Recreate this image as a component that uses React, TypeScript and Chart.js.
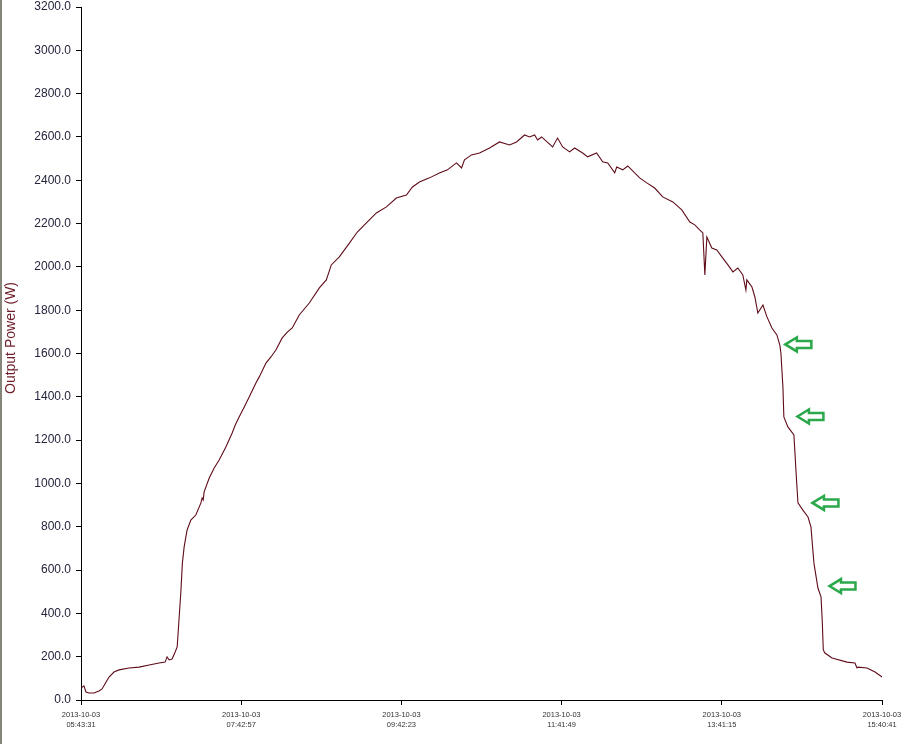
import React, { useEffect, useRef } from "react";
import { Chart, registerables } from "chart.js";

Chart.register(...registerables);

// minutes elapsed since 2013-10-03 05:43:31
const timeMinutes = [
  0, 2.2, 3.7, 6.0, 9.7, 13.4, 15.7, 18.7, 20.9, 24.6, 28.4, 35.8, 43.3, 50.8, 58.2, 62.7, 64.2, 65.7, 67.9,
  70.2, 71.7, 73.2, 74.4, 75.6, 76.9, 79.1, 81.9, 85.6, 89.4, 90.3, 91.1, 91.8, 95.6, 99.3, 103.0, 108.0,
  112.7, 115.0, 117.9, 121.7, 125.4, 130.4, 132.9, 137.9, 141.6, 145.3, 150.0, 153.8, 157.5, 162.7, 170.2,
  177.7, 182.9, 186.6, 192.6, 200.1, 206.0, 211.3, 220.2, 227.7, 235.1, 242.6, 247.1, 252.3, 259.8, 267.2,
  273.2, 279.9, 283.7, 285.9, 291.1, 297.1, 304.6, 312.0, 319.5, 324.7, 330.7, 334.4, 338.2, 340.4, 343.4,
  351.6, 355.3, 359.1, 364.3, 368.0, 374.0, 377.7, 384.4, 388.9, 392.7, 397.9, 399.4, 403.9, 407.6, 416.5,
  421.8, 427.7, 433.7, 441.2, 447.9, 453.9, 457.6, 461.4, 463.6, 465.1, 466.6, 470.3, 474.0, 477.8, 482.3,
  486.0, 489.7, 493.4, 495.7, 496.4, 500.2, 502.4, 504.6, 508.4, 511.4, 515.1, 518.8, 521.0, 521.8, 523.3,
  524.0, 527.0, 531.5, 533.0, 534.5, 538.2, 542.0, 544.2, 546.4, 549.4, 551.7, 552.6, 553.4, 554.6, 559.9,
  571.1, 577.0, 578.5, 579.3, 586.0, 592.0, 597.2,
];

// output power in W
const powerWatts = [
  55, 65, 37, 32, 32, 42, 51, 83, 106, 129, 139, 148, 152, 162, 171, 175, 199, 185, 189,
  222, 245, 383, 494, 633, 707, 785, 831, 854, 910, 933, 924, 961, 1025, 1071, 1108, 1168,
  1233, 1270, 1307, 1353, 1399, 1464, 1492, 1556, 1584, 1616, 1672, 1699, 1718, 1778, 1833,
  1903, 1940, 2009, 2046, 2110, 2161, 2194, 2249, 2277, 2318, 2332, 2369, 2392, 2411, 2434,
  2448, 2480, 2457, 2494, 2517, 2526, 2549, 2577, 2563, 2577, 2609, 2600, 2609, 2586, 2600,
  2554, 2595, 2554, 2531, 2549, 2526, 2508, 2526, 2485, 2480, 2434, 2461, 2448, 2466, 2411,
  2388, 2364, 2323, 2300, 2263, 2207, 2194, 2170, 2157, 1963, 2138, 2087, 2078, 2046, 2009,
  1977, 1995, 1963, 1893, 1940, 1907, 1861, 1787, 1824, 1769, 1718, 1686, 1639, 1602, 1445,
  1307, 1261, 1224, 1062, 910, 877, 845, 799, 633, 517, 476, 369, 231, 217, 194,
  175, 171, 148, 152, 148, 129, 106,
];

const xTickMinutes = [0, 119.433, 238.867, 358.3, 477.733, 597.167];
const xTickDates = ["2013-10-03", "2013-10-03", "2013-10-03", "2013-10-03", "2013-10-03", "2013-10-03"];
const xTickTimes = ["05:43:31", "07:42:57", "09:42:23", "11:41:49", "13:41:15", "15:40:41"];

const yTitle = "Output Power (W)";

// green arrow markers (centre, data coordinates)
const arrowMinutes = [534.8, 543.8, 555.0, 567.7];
const arrowWatts = [1642, 1309, 910, 526];

const FONT = "'Liberation Sans', Arial, sans-serif";

export default function App() {
  const ref = useRef<HTMLCanvasElement | null>(null);

  useEffect(() => {
    const canvas = ref.current;
    if (!canvas) return;

    const decorPlugin = {
      id: "decor",
      beforeDraw(chart: any) {
        const ctx = chart.ctx;
        ctx.save();
        ctx.fillStyle = "#ffffff";
        ctx.fillRect(0, 0, chart.width, chart.height);
        ctx.fillStyle = "#85857a";
        ctx.fillRect(0, 0, 2, chart.height);
        ctx.restore();
      },
      afterDraw(chart: any) {
        const ctx = chart.ctx;
        const xs = chart.scales.x;
        const ys = chart.scales.y;
        ctx.save();
        ctx.translate(11, 338);
        ctx.rotate(-Math.PI / 2);
        ctx.fillStyle = "#6e1e28";
        ctx.font = `14px ${FONT}`;
        ctx.textAlign = "center";
        ctx.textBaseline = "middle";
        ctx.fillText(yTitle, 0, 0);
        ctx.restore();

        ctx.save();
        ctx.strokeStyle = "#2aa84a";
        ctx.lineWidth = 2.5;
        ctx.lineJoin = "miter";
        for (let i = 0; i < arrowMinutes.length; i++) {
          const cx = xs.getPixelForValue(arrowMinutes[i]);
          const cy = ys.getPixelForValue(arrowWatts[i]);
          ctx.beginPath();
          ctx.moveTo(cx - 13, cy);
          ctx.lineTo(cx - 1.5, cy - 7);
          ctx.lineTo(cx - 1.5, cy - 3.5);
          ctx.lineTo(cx + 13, cy - 3.5);
          ctx.lineTo(cx + 13, cy + 3.5);
          ctx.lineTo(cx - 1.5, cy + 3.5);
          ctx.lineTo(cx - 1.5, cy + 7);
          ctx.closePath();
          ctx.stroke();
        }
        ctx.restore();
      },
    };

    const chart = new Chart(canvas, {
      type: "line",
      data: {
        datasets: [
          {
            data: timeMinutes.map((t, i) => ({ x: t, y: powerWatts[i] })),
            borderColor: "#5e0c18",
            borderWidth: 1.1,
            pointRadius: 0,
            tension: 0,
            fill: false,
          },
        ],
      },
      options: {
        responsive: false,
        animation: false,
        layout: { padding: { top: 7, right: 23, left: 0, bottom: 0 } },
        plugins: {
          legend: { display: false },
          tooltip: { enabled: false },
        },
        scales: {
          x: {
            type: "linear",
            min: 0,
            max: 597.167,
            afterBuildTicks(scale: any) {
              scale.ticks = xTickMinutes.map((v) => ({ value: v }));
            },
            afterFit(scale: any) {
              scale.height = 44;
              scale.paddingLeft = 0;
              scale.paddingRight = 0;
            },
            grid: {
              drawOnChartArea: false,
              drawTicks: true,
              tickLength: 5,
              color: "#000000",
            },
            border: { display: true, color: "#000000", width: 1 },
            ticks: {
              autoSkip: false,
              maxRotation: 0,
              padding: 4,
              color: "#333333",
              font: { family: FONT, size: 7.5, lineHeight: 1.45 },
              callback: (_v: any, i: number) => [xTickDates[i], xTickTimes[i]],
            },
          },
          y: {
            min: 0,
            max: 3200,
            afterFit(scale: any) {
              scale.width = 81;
              scale.paddingTop = 0;
              scale.paddingBottom = 0;
            },
            grid: {
              drawOnChartArea: false,
              drawTicks: true,
              tickLength: 5,
              color: "#000000",
            },
            border: { display: true, color: "#000000", width: 1 },
            ticks: {
              stepSize: 200,
              padding: 5,
              color: "#24243c",
              font: { family: FONT, size: 12 },
              callback: (v: any) => Number(v).toFixed(1),
            },
          },
        },
      },
      plugins: [decorPlugin],
    } as any);

    return () => chart.destroy();
  }, []);

  return (
    <div style={{ position: "absolute", left: 0, top: 0, width: 905, height: 744, background: "#fff" }}>
      <canvas ref={ref} width={905} height={744} style={{ display: "block" }} />
    </div>
  );
}
